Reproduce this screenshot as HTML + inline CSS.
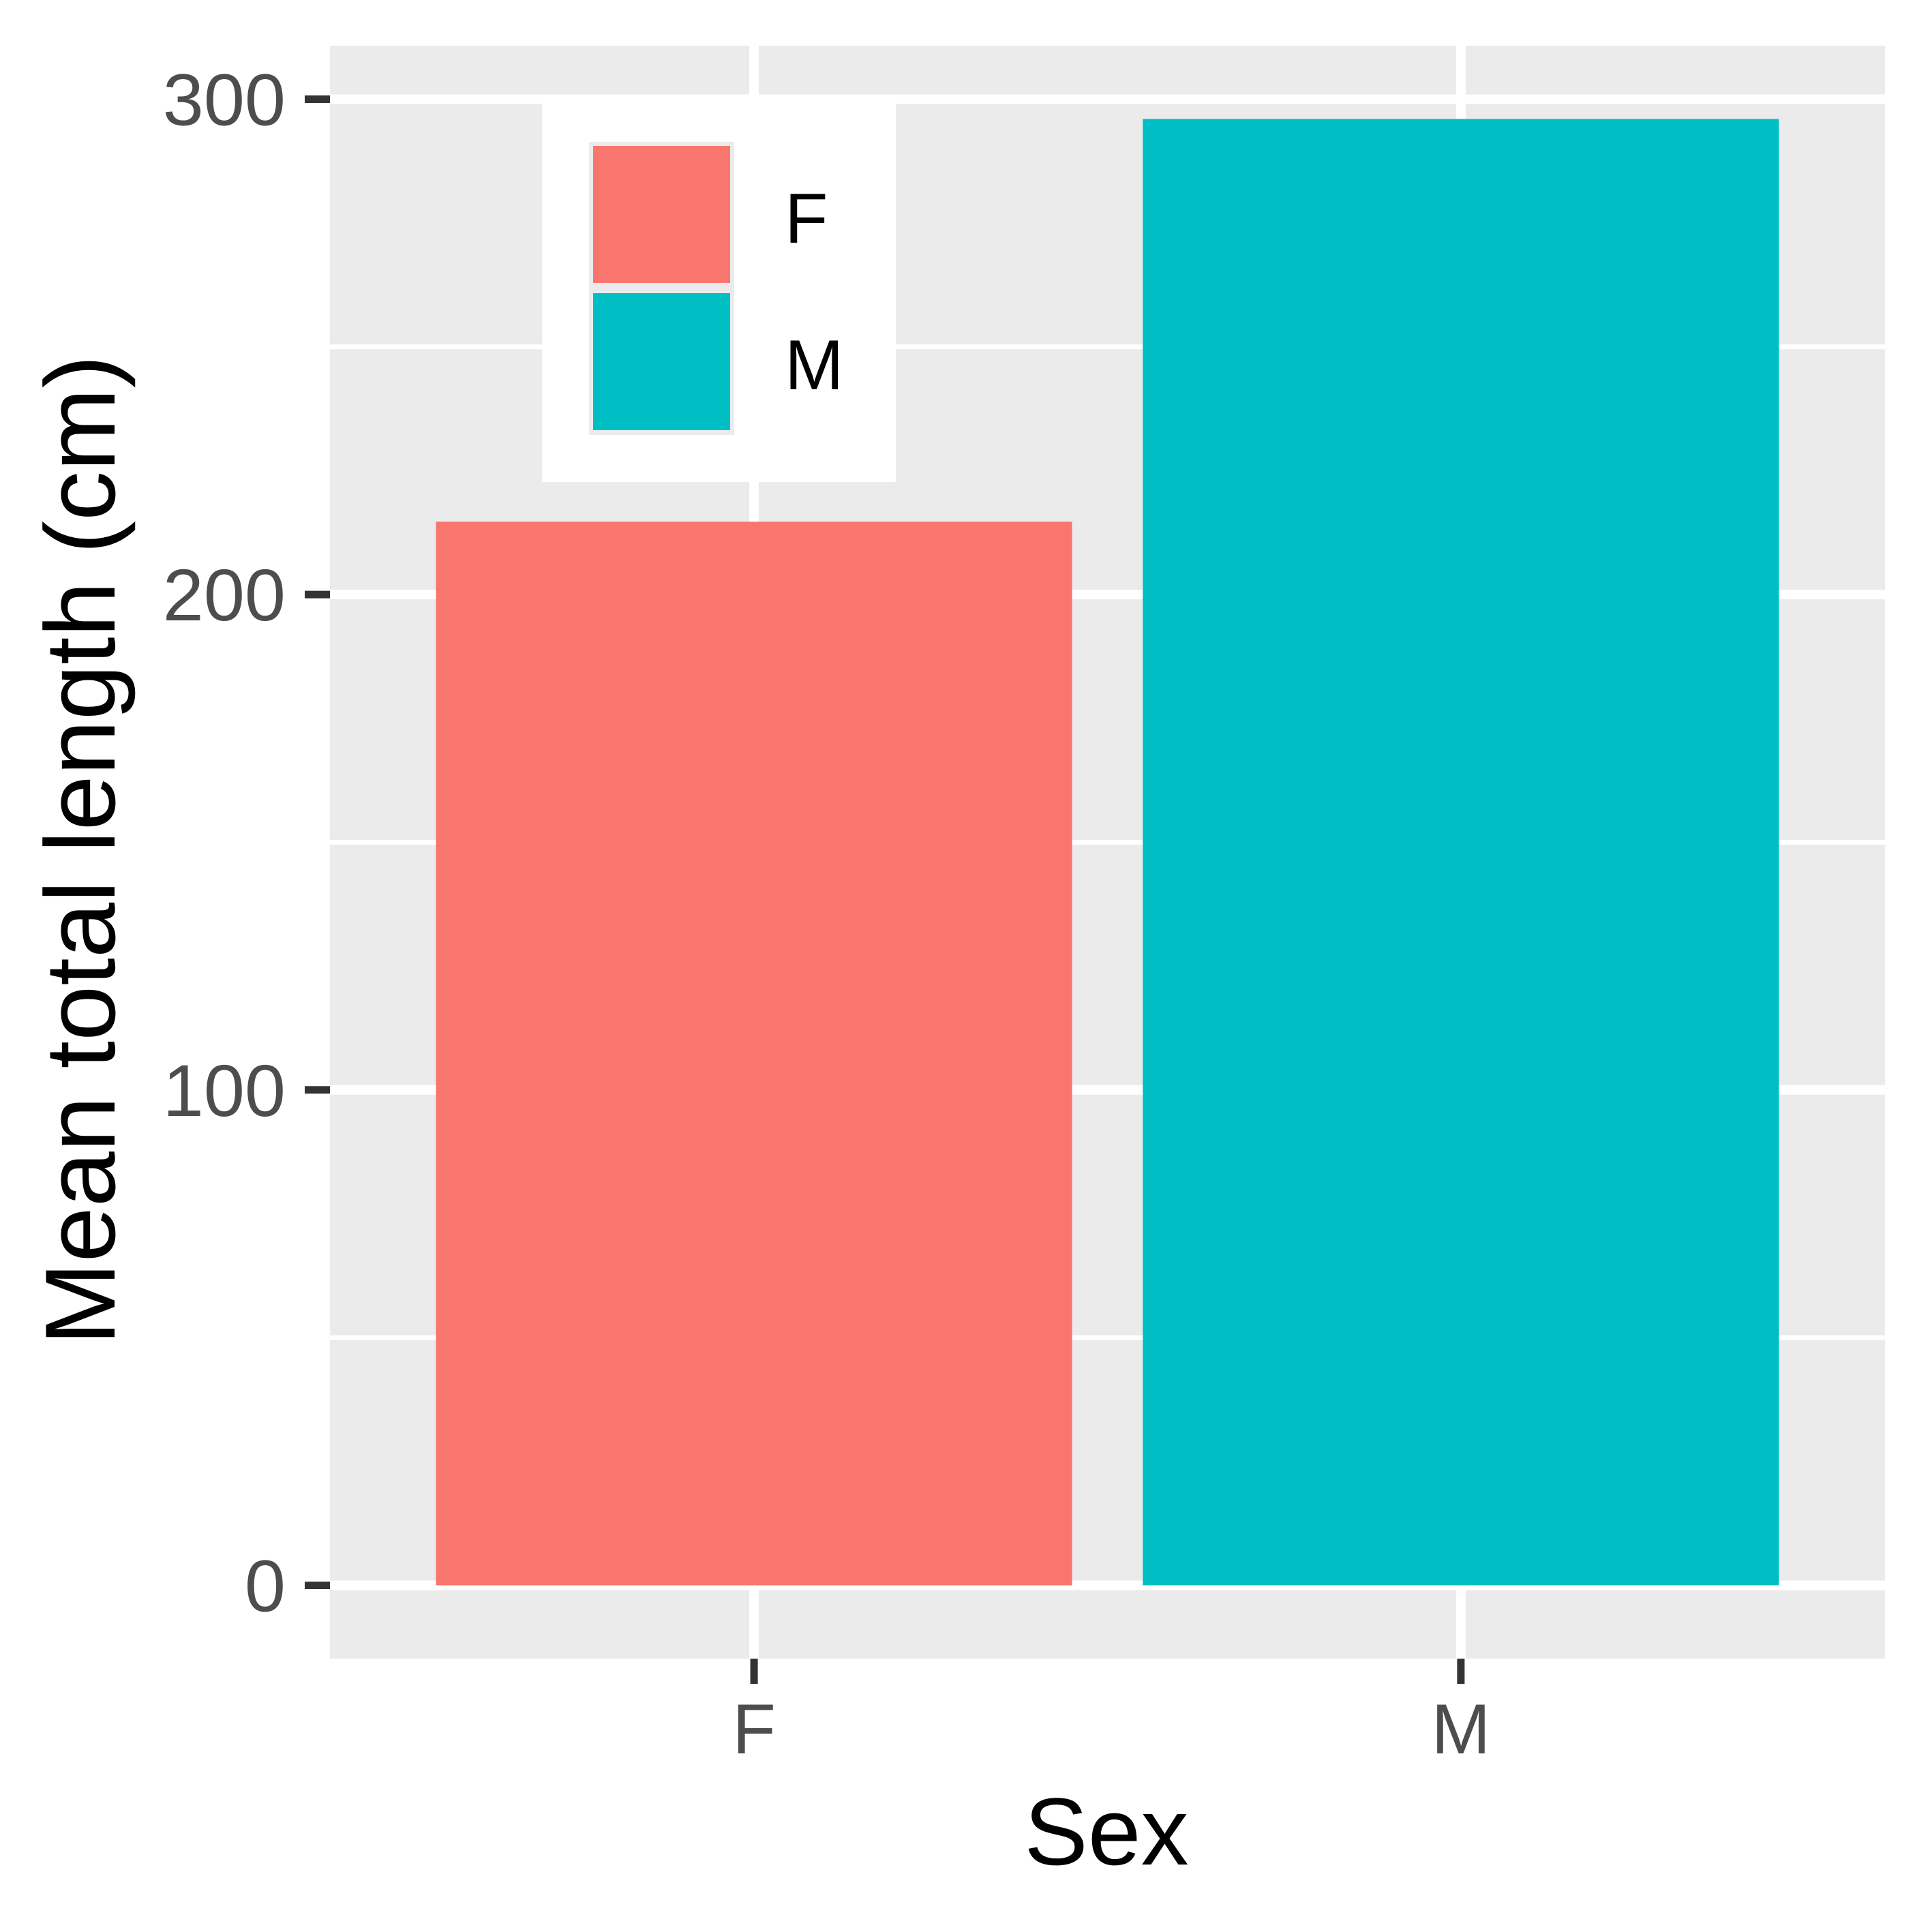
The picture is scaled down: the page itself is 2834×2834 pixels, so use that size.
<!DOCTYPE html>
<html><head><meta charset="utf-8"><style>
html,body{margin:0;padding:0;background:#fff}
svg{display:block}
text{font-family:"Liberation Sans",sans-serif}
</style></head><body>
<svg id="chart" width="2834" height="2834" viewBox="0 0 2834 2834" xmlns="http://www.w3.org/2000/svg">
<rect width="2834" height="2834" fill="#fff"/>
<g id="g"></g>
</svg>
<script>
const categories = ["F", "M"];
const values = [214.7, 296];
const colors = ["#F8766D", "#00BFC4"];
const yTicks = [0, 100, 200, 300];
const yMinor = [50, 150, 250];
const tickLabels = ["0", "100", "200", "300"];

const NS = "http://www.w3.org/2000/svg";
const g = document.getElementById("g");
const P = {l: 484, r: 2765, t: 67, b: 2433};
const yMin = -14.8, yMax = 310.8;
function y(v){ return P.b - (v - yMin) / (yMax - yMin) * (P.b - P.t); }
const bandW = (P.r - P.l) / (categories.length + 0.2);
function x(i){ return P.l + bandW * (0.6 + i); }

function mk(tag, attrs, parent){
  const e = document.createElementNS(NS, tag);
  for (const k in attrs) e.setAttribute(k, attrs[k]);
  (parent || g).appendChild(e);
  return e;
}
const bg = mk("rect", {x:P.l, y:P.t, width:P.r-P.l, height:P.b-P.t, fill:"#EBEBEB"});


yMinor.forEach(v => {
  const l = mk("line", {x1:P.l, x2:P.r, y1:y(v), y2:y(v), stroke:"#fff", "stroke-width":7});
  
  
});
yTicks.forEach(v => {
  const l = mk("line", {x1:P.l, x2:P.r, y1:y(v), y2:y(v), stroke:"#fff", "stroke-width":14});
  
  
});
categories.forEach((c, i) => {
  const l = mk("line", {x1:x(i), x2:x(i), y1:P.t, y2:P.b, stroke:"#fff", "stroke-width":14});
  
  
});
categories.forEach((c, i) => {
  const w = bandW * 0.9;
  const r = mk("rect", {x:x(i)-w/2, y:y(values[i]), width:w, height:y(0)-y(values[i]), fill:colors[i]});
  
  
});
yTicks.forEach((v, i) => {
  const t = mk("line", {x1:P.l-37, x2:P.l, y1:y(v), y2:y(v), stroke:"#333", "stroke-width":11});
  
  
  const tx = mk("text", {x:419, y:y(v)+38, "text-anchor":"end", "font-size":108, fill:"#4D4D4D"});
  tx.textContent = tickLabels[i];
  
  
});
categories.forEach((c, i) => {
  const t = mk("line", {x1:x(i), x2:x(i), y1:P.b, y2:P.b+37, stroke:"#333", "stroke-width":11});
  
  
  const tx = mk("text", {x:x(i), y:2572, "text-anchor":"middle", "font-size":104, fill:"#4D4D4D"});
  tx.textContent = c;
  
  
});
// legend
const lg = mk("g", {});


mk("rect", {x:795, y:152, width:519, height:555, fill:"#fff"}, lg);
mk("rect", {x:864, y:208, width:213, height:430, fill:"#EBEBEB"}, lg);
categories.forEach((c, i) => {
  const k = mk("rect", {x:870, y:214 + i*216, width:201, height:201, fill:colors[i]}, lg);
  
  
  const t = mk("text", {x:1151, y:356 + i*215, "font-size":104, fill:"#000"}, lg);
  t.textContent = c;
  
  
});
const yt = mk("text", {transform:"translate(168,1247) rotate(-90)", "text-anchor":"middle", "font-size":146, fill:"#000"});
yt.textContent = "Mean total length (cm)";


const xt = mk("text", {x:1623, y:2735, "text-anchor":"middle", "font-size":140, fill:"#000"});
xt.textContent = "Sex";


</script>
</body></html>
